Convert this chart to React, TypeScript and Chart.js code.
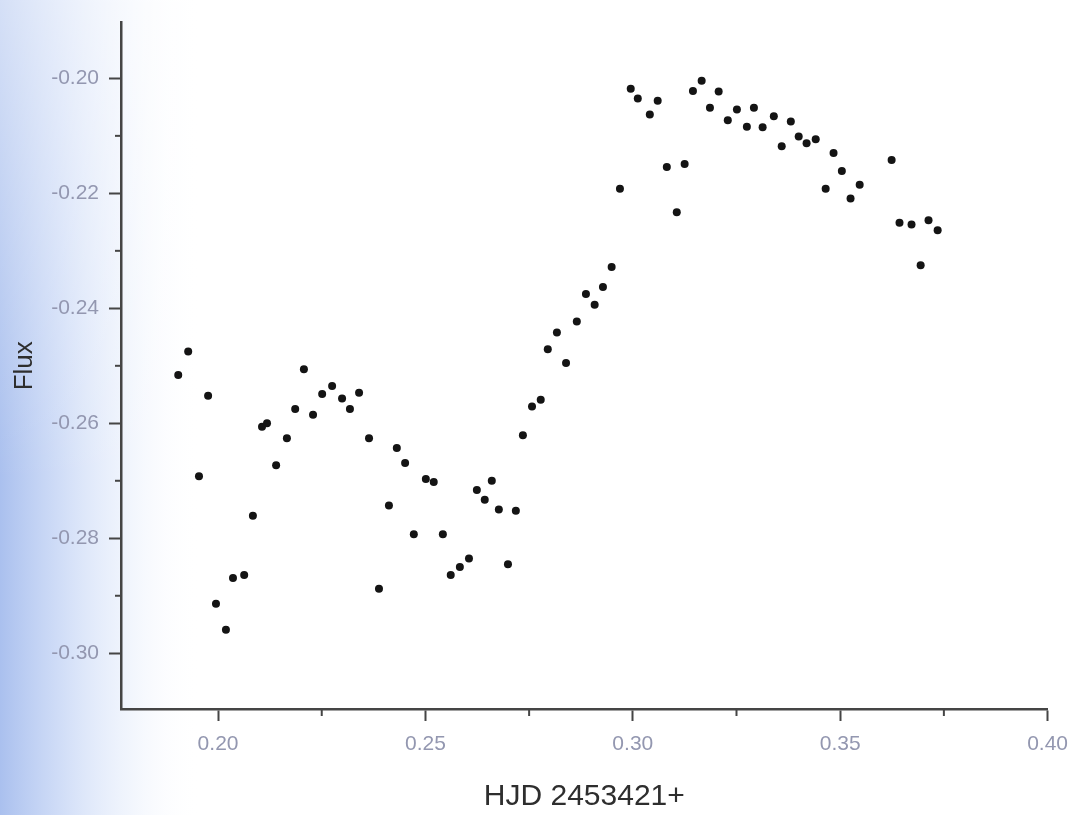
import React, { useEffect, useRef } from 'react';
import { Chart, registerables } from 'chart.js';

Chart.register(...registerables);

const hjd = [
  0.1904, 0.1928, 0.1954, 0.1976, 0.1995, 0.2019, 0.2036, 0.2063, 0.2084, 0.2106,
  0.2118, 0.2140, 0.2166, 0.2186, 0.2207, 0.2229, 0.2251, 0.2275, 0.2299, 0.2318,
  0.2340, 0.2364, 0.2388, 0.2412, 0.2431, 0.2451, 0.2472, 0.2501, 0.2520, 0.2542,
  0.2561, 0.2583, 0.2605, 0.2624, 0.2643, 0.2660, 0.2677, 0.2699, 0.2718, 0.2735,
  0.2757, 0.2778, 0.2795, 0.2817, 0.2839, 0.2865, 0.2887, 0.2908, 0.2928, 0.2949,
  0.2969, 0.2995, 0.3012, 0.3041, 0.3060, 0.3082, 0.3106, 0.3125, 0.3145, 0.3166,
  0.3186, 0.3207, 0.3229, 0.3251, 0.3275, 0.3292, 0.3313, 0.3340, 0.3359, 0.3381,
  0.3400, 0.3419, 0.3441, 0.3465, 0.3484, 0.3504, 0.3525, 0.3547, 0.3624, 0.3643,
  0.3672, 0.3694, 0.3713, 0.3735,
];

const flux = [
  -0.2516, -0.2475, -0.2692, -0.2552, -0.2914, -0.2959, -0.2869, -0.2864, -0.2761, -0.2606,
  -0.2600, -0.2673, -0.2626, -0.2575, -0.2506, -0.2585, -0.2549, -0.2535, -0.2557, -0.2575,
  -0.2547, -0.2626, -0.2888, -0.2743, -0.2643, -0.2669, -0.2793, -0.2697, -0.2702, -0.2793,
  -0.2864, -0.2850, -0.2835, -0.2716, -0.2733, -0.2700, -0.2750, -0.2845, -0.2752, -0.2621,
  -0.2571, -0.2559, -0.2471, -0.2442, -0.2495, -0.2423, -0.2375, -0.2394, -0.2363, -0.2328,
  -0.2192, -0.2018, -0.2035, -0.2063, -0.2039, -0.2154, -0.2233, -0.2149, -0.2022, -0.2004,
  -0.2051, -0.2023, -0.2073, -0.2054, -0.2084, -0.2051, -0.2085, -0.2066, -0.2118, -0.2075,
  -0.2101, -0.2113, -0.2106, -0.2192, -0.2130, -0.2161, -0.2209, -0.2185, -0.2142, -0.2251,
  -0.2254, -0.2325, -0.2247, -0.2264,
];

const xMajorTicks = [0.20, 0.25, 0.30, 0.35, 0.40];
const xMinorTicks = [0.225, 0.275, 0.325, 0.375];
const yMajorTicks = [-0.30, -0.28, -0.26, -0.24, -0.22, -0.20];
const yMinorTicks = [-0.29, -0.27, -0.25, -0.23, -0.21, -0.19];
const xLabel = 'HJD 2453421+';
const yLabel = 'Flux';

const AXIS_COLOR = '#454545';
const TICK_LABEL_COLOR = '#9397b0';

const backgroundPlugin = {
  id: 'scanBackground',
  beforeDraw(chart: any) {
    const { ctx, width, height } = chart;
    ctx.save();
    ctx.fillStyle = '#ffffff';
    ctx.fillRect(0, 0, width, height);
    const g = ctx.createLinearGradient(0, 0, 200, 0);
    g.addColorStop(0, 'rgba(170,192,238,1)');
    g.addColorStop(0.3, 'rgba(200,215,246,0.85)');
    g.addColorStop(0.65, 'rgba(228,236,251,0.5)');
    g.addColorStop(1, 'rgba(255,255,255,0)');
    ctx.fillStyle = g;
    ctx.fillRect(0, 0, 200, height);
    const v = ctx.createLinearGradient(0, 0, 0, 480);
    v.addColorStop(0, 'rgba(255,255,255,0.5)');
    v.addColorStop(1, 'rgba(255,255,255,0)');
    ctx.fillStyle = v;
    ctx.fillRect(0, 0, 200, 480);
    ctx.restore();
  },
};

const minorTickPlugin = {
  id: 'minorTicks',
  afterDraw(chart: any) {
    const { ctx, chartArea, scales } = chart;
    ctx.save();
    ctx.strokeStyle = AXIS_COLOR;
    ctx.lineWidth = 2;
    xMinorTicks.forEach((v) => {
      if (v < scales.x.min || v > scales.x.max) return;
      const px = scales.x.getPixelForValue(v);
      ctx.beginPath();
      ctx.moveTo(px, chartArea.bottom);
      ctx.lineTo(px, chartArea.bottom + 7);
      ctx.stroke();
    });
    yMinorTicks.forEach((v) => {
      if (v < scales.y.min || v > scales.y.max) return;
      const py = scales.y.getPixelForValue(v);
      ctx.beginPath();
      ctx.moveTo(chartArea.left, py);
      ctx.lineTo(chartArea.left - 6, py);
      ctx.stroke();
    });
    ctx.restore();
  },
};

export default function App() {
  const ref = useRef<HTMLCanvasElement | null>(null);

  useEffect(() => {
    if (!ref.current) return;
    const chart = new Chart(ref.current, {
      type: 'scatter',
      data: {
        datasets: [
          {
            data: hjd.map((x, i) => ({ x, y: flux[i] })),
            pointRadius: 4,
            pointBackgroundColor: '#141414',
            pointBorderWidth: 0,
            showLine: false,
          },
        ],
      },
      options: {
        responsive: false,
        animation: false,
        events: [],
        layout: { padding: { left: 0, top: 16, right: 31, bottom: 0 } },
        plugins: {
          legend: { display: false },
          tooltip: { enabled: false },
        },
        scales: {
          x: {
            type: 'linear',
            min: 0.1766,
            max: 0.40,
            afterBuildTicks: (scale: any) => {
              scale.ticks = xMajorTicks.map((value) => ({ value }));
            },
            afterFit: (scale: any) => {
              scale.height = 106;
            },
            ticks: {
              padding: 11,
              color: TICK_LABEL_COLOR,
              font: { family: 'Liberation Sans, Arial, sans-serif', size: 21 },
              callback: (v: any) => Number(v).toFixed(2),
            },
            grid: {
              drawOnChartArea: false,
              drawTicks: true,
              tickLength: 12,
              tickWidth: 2,
              tickColor: AXIS_COLOR,
            },
            border: { display: true, color: AXIS_COLOR, width: 2.5 },
            title: {
              display: true,
              text: xLabel,
              color: '#2e2e2e',
              font: { family: 'Liberation Sans, Arial, sans-serif', size: 30 },
              padding: { top: 0, bottom: 0 },
            },
          },
          y: {
            type: 'linear',
            min: -0.3097,
            max: -0.1903,
            afterBuildTicks: (scale: any) => {
              scale.ticks = yMajorTicks.map((value) => ({ value }));
            },
            afterFit: (scale: any) => {
              scale.width = 121;
            },
            ticks: {
              padding: 10,
              color: TICK_LABEL_COLOR,
              font: { family: 'Liberation Sans, Arial, sans-serif', size: 21 },
              callback: (v: any) => Number(v).toFixed(2),
            },
            grid: {
              drawOnChartArea: false,
              drawTicks: true,
              tickLength: 12,
              tickWidth: 2,
              tickColor: AXIS_COLOR,
            },
            border: { display: true, color: AXIS_COLOR, width: 2.5 },
            title: {
              display: true,
              text: yLabel,
              color: '#2e2e2e',
              font: { family: 'Liberation Sans, Arial, sans-serif', size: 26 },
              padding: { top: 9, bottom: 0 },
            },
          },
        },
      },
      plugins: [backgroundPlugin, minorTickPlugin],
    });
    return () => chart.destroy();
  }, []);

  return (
    <div style={{ position: 'fixed', left: 0, top: 0, width: 1079, height: 815, background: '#fff' }}>
      <canvas ref={ref} width={1079} height={815} style={{ display: 'block' }} />
    </div>
  );
}
